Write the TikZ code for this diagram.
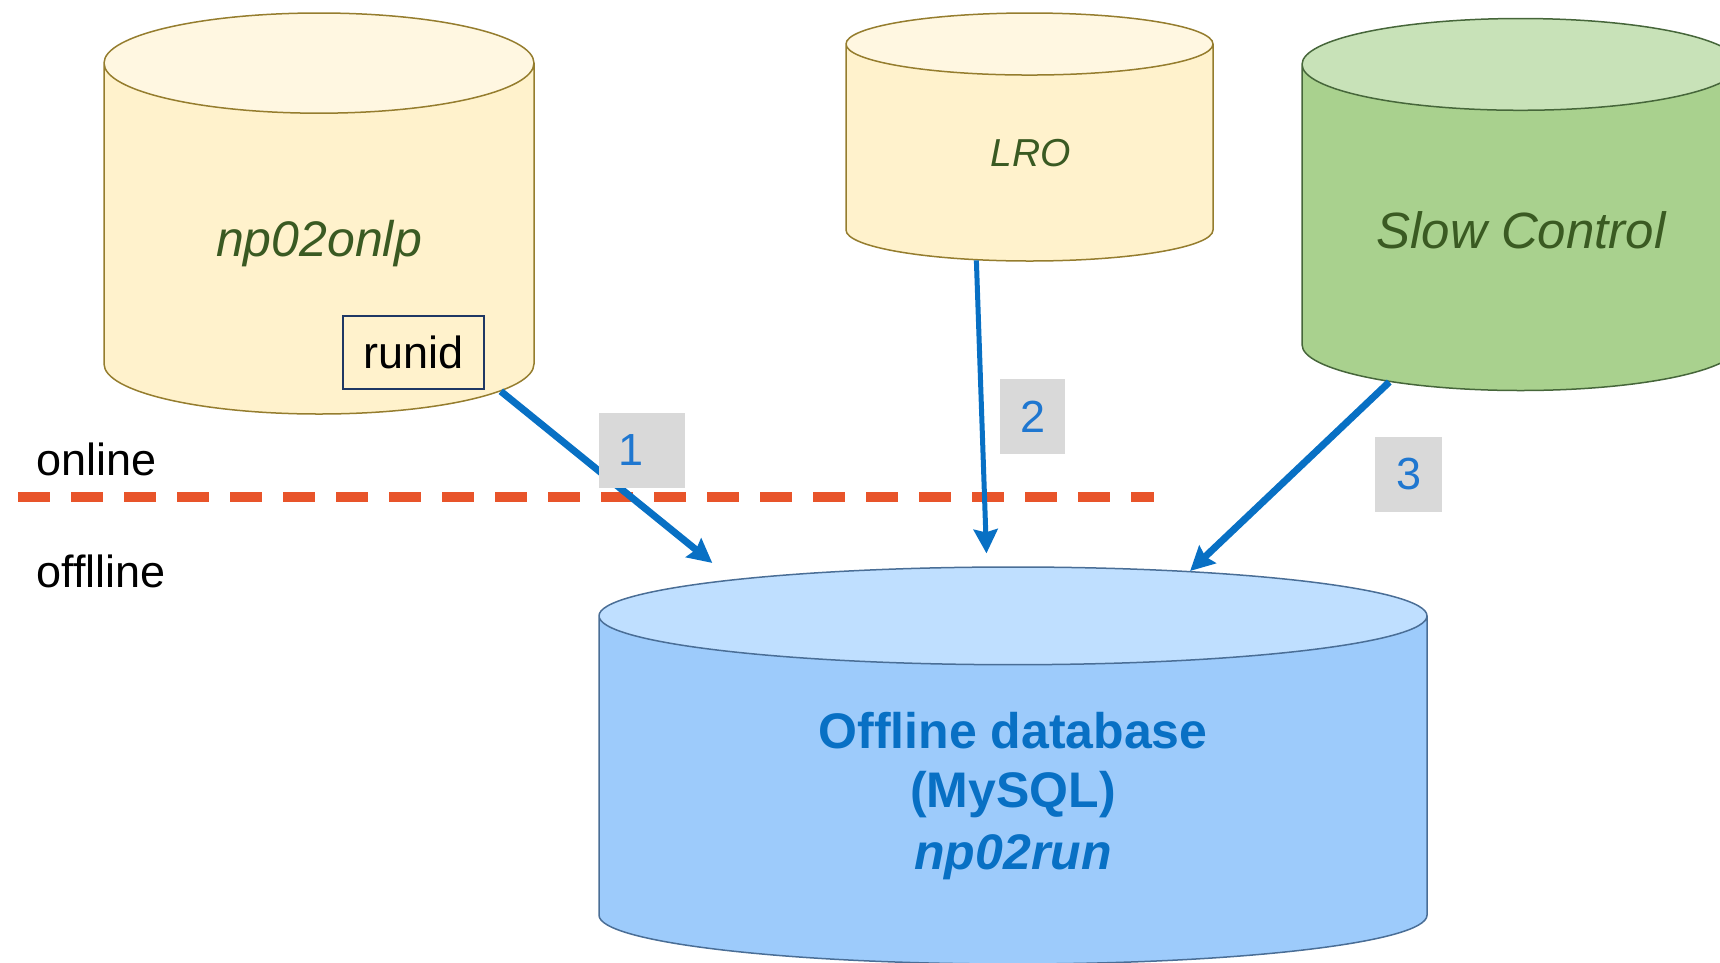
\documentclass[tikz,border=0pt]{standalone}
\usepackage{fontspec}
\setmainfont{Liberation Sans}
\usetikzlibrary{shapes.geometric}
\usetikzlibrary{arrows.meta}
\definecolor{dbyellow}{HTML}{FFF2CC}
\definecolor{dbyellowtop}{HTML}{FFF7E1}
\definecolor{dbyellowline}{HTML}{957D2E}
\definecolor{dbgreen}{HTML}{A9D18E}
\definecolor{dbgreentop}{HTML}{C8E2B8}
\definecolor{dbgreenline}{HTML}{46663A}
\definecolor{dbblue}{HTML}{9DCBFB}
\definecolor{dbbluetop}{HTML}{BFDFFF}
\definecolor{dbblueline}{HTML}{4A6E96}
\definecolor{dbtext}{HTML}{3A5A22}
\definecolor{flowblue}{HTML}{0870C4}
\definecolor{numblue}{HTML}{1F77D0}
\definecolor{numgray}{HTML}{D9D9D9}
\definecolor{cutred}{HTML}{E8542A}
\definecolor{keynavy}{HTML}{1F3864}
\tikzset{
  db/.style= {cylinder, shape border rotate=90, draw, line width=1.5pt,
    cylinder uses custom fill, inner ysep=0pt, anchor=shape center},
  ydb/.style= {db, draw=dbyellowline, cylinder body fill=dbyellow, cylinder end fill=dbyellowtop},
  gdb/.style= {db, draw=dbgreenline, cylinder body fill=dbgreen, cylinder end fill=dbgreentop},
  bdb/.style= {db, draw=dbblueline, cylinder body fill=dbblue, cylinder end fill=dbbluetop},
  dbname/.style= {text=dbtext, font=\itshape\fontsize{50}{60}\selectfont, anchor=base},
  offname/.style= {text=flowblue, font=\bfseries\fontsize{50}{60}\selectfont, anchor=base},
  side/.style= {font=\fontsize{45}{54}\selectfont, anchor=base west},
  keybox/.style= {draw=keynavy, line width=1.5pt, minimum width=141pt, minimum height=73pt,
    font=\fontsize{45}{54}\selectfont},
  stepnum/.style= {fill=numgray, text=numblue, minimum height=75pt, font=\fontsize{45}{54}\selectfont},
  flow/.style= {draw=flowblue, line width=7pt, -{Stealth[length=24pt, width=24pt, inset=3pt]}},
  cut/.style= {draw=cutred, line width=10pt, dash pattern=on 32pt off 21pt},
}

\begin{document}
\begin{tikzpicture}[x=1pt, y=-1pt]
  \useasboundingbox (0,0) rectangle (1720,962);
  \clip (0,0) rectangle (1720,962);

  % databases
  \node [ydb, inner xsep=215pt, minimum height=401pt, aspect=0.233] (onlp) at (319,213.5) {};
  \node [ydb, inner xsep=183.5pt, minimum height=248pt, aspect=0.169] (lro) at (1029.5,137) {};
  \node [gdb, inner xsep=218.5pt, minimum height=372pt, aspect=0.21] (sc) at (1520.5,204.5) {};
  \node [bdb, inner xsep=414pt, minimum height=397pt, aspect=0.118] (off) at (1013,765.5) {};

  \node [dbname] (onlpname) at (319,256) {np02onlp};
  \node [dbname, font=\itshape\fontsize{39}{47}\selectfont] (lroname) at (1031,166) {LRO};
  \node [dbname, font=\itshape\fontsize{51}{61}\selectfont] (scname) at (1521,248) {Slow Control};
  \node [keybox] (runid) at (413.5,352.5) {runid};

  \node [offname] (offa) at (1013,748) {Offline database};
  \node [offname] (offb) at (1013,807) {(MySQL)};
  \node [offname, font=\bfseries\itshape\fontsize{50}{60}\selectfont] (offc) at (1013,869) {np02run};

  % online / offline border
  \draw [cut] (18,497) -- (1154,497);
  \node [side] (online) at (33,475) {online};
  \node [side] (offline) at (33,587) {offlline};

  % transfers
  \draw [flow, shorten >=26pt] (onlp.-35.5) -- (off.140.7);
  \draw [flow, line width=5pt, shorten >=13pt] (lro.-120.6) -- (off.96.8);
  \draw [flow] (sc.-135.4) -- (off.54.3);

  \node [stepnum, minimum width=86pt] (s1) at (642,450.5) {1\kern22pt};
  \node [stepnum, minimum width=65pt] (s2) at (1032.5,416.5) {2};
  \node [stepnum, minimum width=67pt] (s3) at (1408.5,474) {3};
\end{tikzpicture}
\end{document}
